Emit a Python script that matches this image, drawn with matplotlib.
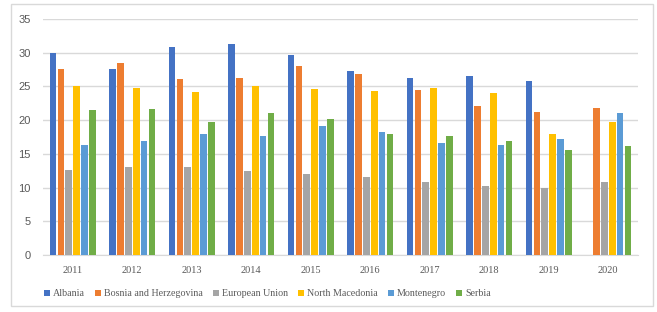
import matplotlib
matplotlib.use("Agg")
import matplotlib.pyplot as plt
import numpy as np
from matplotlib.patches import Rectangle

years = ["2011", "2012", "2013", "2014", "2015", "2016", "2017", "2018", "2019", "2020"]
albania = [30.0, 27.6, 30.9, 31.3, 29.7, 27.3, 26.2, 26.5, 25.8, np.nan]
bosnia = [27.6, 28.5, 26.1, 26.2, 28.1, 26.9, 24.5, 22.1, 21.2, 21.8]
eu = [12.6, 13.0, 13.0, 12.5, 12.0, 11.5, 10.9, 10.3, 10.0, 10.9]
north_macedonia = [25.1, 24.8, 24.2, 25.1, 24.6, 24.3, 24.8, 24.0, 18.0, 19.7]
montenegro = [16.3, 16.9, 17.9, 17.7, 19.1, 18.3, 16.6, 16.3, 17.2, 21.0]
serbia = [21.5, 21.7, 19.7, 21.0, 20.2, 18.0, 17.6, 16.9, 15.6, 16.1]

series = [
    ("Albania", albania, "#4472C4"),
    ("Bosnia and Herzegovina", bosnia, "#ED7D31"),
    ("European Union", eu, "#A5A5A5"),
    ("North Macedonia", north_macedonia, "#FFC000"),
    ("Montenegro", montenegro, "#5B9BD5"),
    ("Serbia", serbia, "#70AD47"),
]

fig = plt.figure(figsize=(6.57, 3.12), dpi=100)
fig.patches.append(Rectangle((11/657, 1 - 306/312), 642/657, 302/312, transform=fig.transFigure,
                             fill=False, edgecolor="#D9D9D9", linewidth=1.0))
ax = fig.add_axes([43/657, 1 - 255/312, 595/657, 236/312])

x = np.arange(len(years))
pitch = 0.134
width = 0.11
for i, (name, vals, col) in enumerate(series):
    ax.bar(x + (i - 2.5) * pitch, vals, width=width, color=col, label=name, zorder=3)

ax.set_xlim(-0.5, len(years) - 0.5)
ax.set_ylim(0, 35)
ax.set_yticks(np.arange(0, 36, 5))
ax.yaxis.grid(True, color="#D9D9D9", linewidth=1.0, zorder=0)
for s in ["top", "right", "left"]:
    ax.spines[s].set_visible(False)
ax.spines["bottom"].set_color("#D9D9D9")
ax.tick_params(axis="both", length=0)
ax.tick_params(axis="y", pad=9, labelsize=8, labelcolor="#595959")
ax.tick_params(axis="x", pad=8, labelsize=7.5, labelcolor="#595959")
ax.set_xticks(x)
ax.set_xticklabels(years, family="Liberation Serif")
for lab in ax.get_yticklabels():
    lab.set_family("Liberation Sans")

leg = fig.legend(loc="center left", bbox_to_anchor=(40/657, 1 - 294/312), ncol=6, frameon=False,
                 prop={"family": "Liberation Serif", "size": 7.2}, handlelength=0.6, handleheight=0.6,
                 handletextpad=0.3, columnspacing=1.0, borderaxespad=0)
for t in leg.get_texts():
    t.set_color("#595959")

fig.savefig("out.png", dpi=100)
